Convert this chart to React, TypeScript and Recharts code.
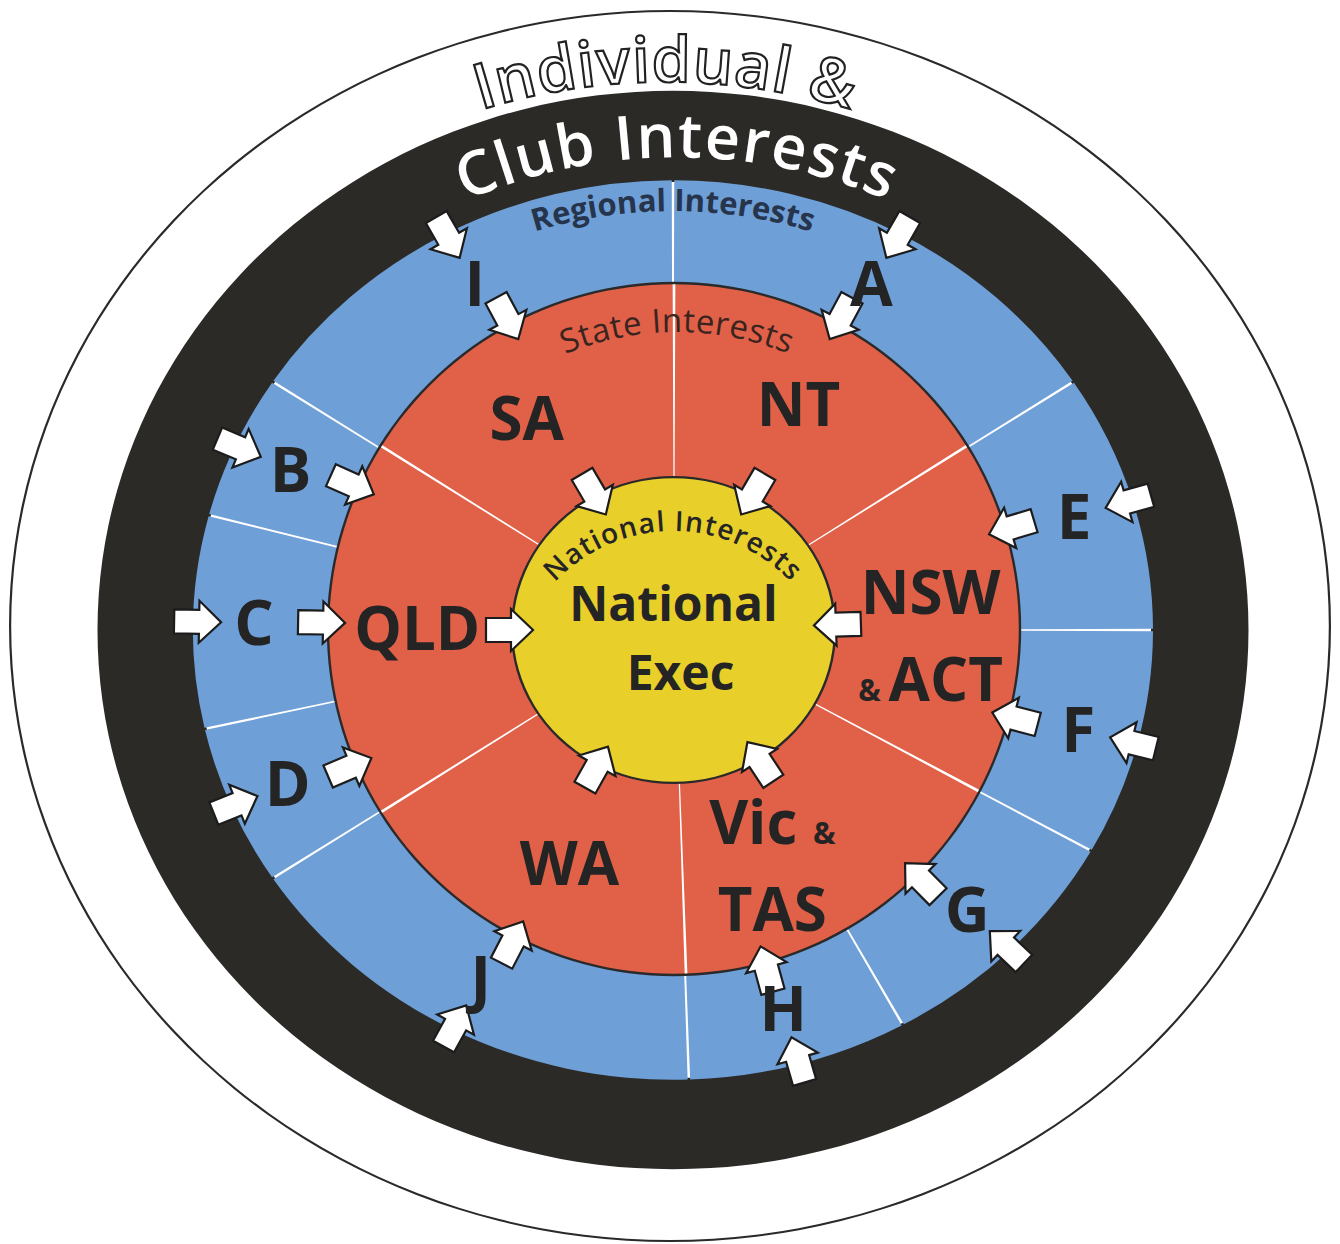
import React from "react";
import { PieChart, Pie } from "recharts";

const FONT = "'Open Sans', 'Noto Sans', 'DejaVu Sans', sans-serif";

// ---------------- data ----------------
const TITLE_LINES = ["Individual &", "Club Interests"];
const RING_TITLES = ["Regional Interests", "State Interests", "National Interests"];
// regions, counter-clockwise from 3 o'clock; spans in degrees
const REGIONS = ["E", "A", "I", "B", "C", "D", "J", "H", "G", "F"];
const REGION_SPANS = [33.5, 56.5, 56.5, 18.7, 27.5, 20.8, 58.4, 26.7, 32.0, 29.4];
// states, counter-clockwise from -28 degrees; spans in degrees
const STATES = ["NSW & ACT", "NT", "SA", "QLD", "WA", "Vic & TAS"];
const STATE_SPANS = [60, 58, 58, 64, 60, 60];
const STATE_LINES = [["NSW", "& ACT"], ["NT"], ["SA"], ["QLD"], ["WA"], ["Vic &", "TAS"]];
const CENTRE_LINES = ["National", "Exec"];

// ---------------- layout ----------------
const W = 1340;
const H = 1244;
const OUTER = { cx: 670, cy: 626, r: 661, k: 0.932 };
const RING = { cx: 673, cy: 630, k: 0.937, black: 575.5, blue: 480 };
const RED = { cx: 674, cy: 629, r: 346 };
const YEL = { cx: 673.5, cy: 630, r: 161.5, k: 0.947 };
const REGION_PAD = 0.3;
const STATE_PAD = 0.45;
const STATE_START = -28;
// small hand-placement turns (degrees) of the state captions inside their sectors
const STATE_LABEL_TURN = [-3.5, 0, 6, 0, 4, -9.5];

const COLORS = {
  black: "#2b2a27",
  blue: "#6e9fd7",
  red: "#e06048",
  yellow: "#e9cf2a",
  ink: "#242424",
  line: "#2a2a2a",
};

const regionData = REGIONS.map((name, i) => ({ name, value: REGION_SPANS[i] - REGION_PAD }));
const stateData = STATES.map((name, i) => ({ name, value: STATE_SPANS[i] - STATE_PAD }));
const one = (name: string) => [{ name, value: 1 }];

const squash = (k: number, cy: number) => `matrix(1,0,0,${k},0,${(cy * (1 - k)).toFixed(2)})`;
const CSS = `
body{margin:0;background:#fff;}
g.recharts-pie.sq-outer{transform:${squash(OUTER.k, OUTER.cy)};transform-origin:0 0;transform-box:view-box;}
g.recharts-pie.sq-ring{transform:${squash(RING.k, RING.cy)};transform-origin:0 0;transform-box:view-box;}
g.recharts-pie.sq-yel{transform:${squash(YEL.k, YEL.cy)};transform-origin:0 0;transform-box:view-box;}
`;

const toXY = (cx: number, cy: number, r: number, deg: number, k: number) => {
  const a = (deg * Math.PI) / 180;
  return { x: cx + r * Math.cos(a), y: cy - r * Math.sin(a) * k };
};

function Arrow({ x, y, tx, ty }: { x: number; y: number; tx: number; ty: number }) {
  const deg = (Math.atan2(ty - y, tx - x) * 180) / Math.PI;
  return (
    <path
      d="M -24,-12 L 1,-12 L 1,-21 L 23,0 L 1,21 L 1,12 L -24,12 Z"
      transform={`translate(${x.toFixed(1)},${y.toFixed(1)}) rotate(${deg.toFixed(1)})`}
      fill="#ffffff"
      stroke="#1c1c1c"
      strokeWidth={2.2}
      strokeLinejoin="miter"
    />
  );
}

const renderRegion = (p: any) => {
  const { cx, cy, midAngle, innerRadius, outerRadius, index } = p;
  const c = toXY(cx, cy, (innerRadius + outerRadius) / 2 + 6, midAngle, RING.k);
  const out = toXY(cx, cy, outerRadius - 5, midAngle, RING.k);
  const inn = toXY(RED.cx, RED.cy, RED.r + 6, midAngle, 1);
  const fs = 62;
  return (
    <g>
      <Arrow x={out.x} y={out.y} tx={cx} ty={cy} />
      <Arrow x={inn.x} y={inn.y} tx={RED.cx} ty={RED.cy} />
      <text
        x={c.x}
        y={c.y + fs * 0.357}
        textAnchor="middle"
        fontFamily={FONT}
        fontSize={fs}
        fontWeight={700}
        fill={COLORS.ink}
      >
        {REGIONS[index]}
      </text>
    </g>
  );
};

const tokens = (ln: string) =>
  ln.split(" ").map((t, i, arr) => (
    <tspan key={i} fontSize={t === "&" ? 30 : undefined}>
      {t}
      {i < arr.length - 1 ? " " : ""}
    </tspan>
  ));

const renderState = (p: any) => {
  const { cx, cy, midAngle, innerRadius, outerRadius, index } = p;
  const c = toXY(cx, cy, (innerRadius + outerRadius) / 2 + 3, midAngle + STATE_LABEL_TURN[index], 1);
  const a = toXY(YEL.cx, YEL.cy, YEL.r + 2, midAngle, YEL.k);
  const lines = STATE_LINES[index];
  const fs = 60;
  const gap = 87;
  return (
    <g>
      <Arrow x={a.x} y={a.y} tx={YEL.cx} ty={YEL.cy} />
      {lines.map((ln, j) => (
        <text
          key={j}
          x={c.x}
          y={c.y + (j - (lines.length - 1) / 2) * gap + fs * 0.357}
          textAnchor="middle"
          fontFamily={FONT}
          fontSize={fs}
          fontWeight={700}
          fill={COLORS.ink}
        >
          {tokens(ln)}
        </text>
      ))}
    </g>
  );
};

const renderCentre = (p: any) => {
  const { cx, cy } = p;
  return (
    <g>
      <text x={cx} y={cy - 9} textAnchor="middle" fontFamily={FONT} fontSize={48} fontWeight={700} fill={COLORS.ink}>
        {CENTRE_LINES[0]}
      </text>
      <text x={cx + 7} y={cy + 60} textAnchor="middle" fontFamily={FONT} fontSize={48} fontWeight={700} fill={COLORS.ink}>
        {CENTRE_LINES[1]}
      </text>
    </g>
  );
};

type ArcOpts = {
  id: string;
  k: number;
  fontSize: number;
  fontWeight: number;
  fill: string;
  stroke?: string;
  strokeWidth?: number;
  letterSpacing?: number;
};

const arcLabel = (o: ArcOpts) => (p: any) => {
  const { cx, cy, outerRadius } = p;
  const rx = outerRadius;
  const ry = outerRadius * o.k;
  const text = p.name ?? (p.payload && p.payload.name);
  const d = `M ${cx - rx},${cy} A ${rx},${ry} 0 0 1 ${cx + rx},${cy}`;
  return (
    <g>
      <defs>
        <path id={o.id} d={d} />
      </defs>
      <text
        fontFamily={FONT}
        fontSize={o.fontSize}
        fontWeight={o.fontWeight}
        fill={o.fill}
        stroke={o.stroke || "none"}
        strokeWidth={o.strokeWidth || 0}
        letterSpacing={o.letterSpacing || 0}
        textAnchor="middle"
      >
        <textPath href={`#${o.id}`} startOffset="50%" textAnchor="middle">
          {text}
        </textPath>
      </text>
    </g>
  );
};

const common = { dataKey: "value", isAnimationActive: false, stroke: "none" } as const;

export default function App() {
  return (
    <div style={{ width: W, height: H, background: "#fff" }}>
      <style>{CSS}</style>
      <PieChart width={W} height={H} margin={{ top: 0, right: 0, bottom: 0, left: 0 }}>
        {/* outer white target outline */}
        <Pie
          {...common}
          className="sq-outer"
          data={one(TITLE_LINES[0])}
          cx={OUTER.cx}
          cy={OUTER.cy}
          innerRadius={OUTER.r - 2.2}
          outerRadius={OUTER.r}
          fill={COLORS.line}
        />
        {/* black ring */}
        <Pie
          {...common}
          className="sq-ring"
          data={one(TITLE_LINES[1])}
          cx={RING.cx}
          cy={RING.cy}
          innerRadius={RING.blue - 2}
          outerRadius={RING.black}
          fill={COLORS.black}
        />
        {/* blue regional ring */}
        <Pie
          {...common}
          className="sq-ring"
          data={regionData}
          cx={RING.cx}
          cy={RING.cy}
          innerRadius={RED.r - 4}
          outerRadius={RING.blue}
          startAngle={REGION_PAD / 2}
          endAngle={360 + REGION_PAD / 2}
          paddingAngle={REGION_PAD}
          fill={COLORS.blue}
        />
        {/* white backing under state ring */}
        <Pie {...common} data={one(RING_TITLES[1])} cx={RED.cx} cy={RED.cy} innerRadius={0} outerRadius={RED.r} fill="#ffffff" />
        {/* red state ring */}
        <Pie
          {...common}
          data={stateData}
          cx={RED.cx}
          cy={RED.cy}
          innerRadius={YEL.r - 30}
          outerRadius={RED.r}
          startAngle={STATE_START + STATE_PAD / 2}
          endAngle={STATE_START + 360 + STATE_PAD / 2}
          paddingAngle={STATE_PAD}
          fill={COLORS.red}
        />
        <Pie {...common} data={one(RING_TITLES[1])} cx={RED.cx} cy={RED.cy} innerRadius={RED.r - 1.2} outerRadius={RED.r + 1.2} fill={COLORS.line} />
        {/* yellow national centre */}
        <Pie {...common} className="sq-yel" data={one(RING_TITLES[2])} cx={YEL.cx} cy={YEL.cy} innerRadius={0} outerRadius={YEL.r} fill={COLORS.yellow} />
        <Pie {...common} className="sq-yel" data={one(RING_TITLES[2])} cx={YEL.cx} cy={YEL.cy} innerRadius={YEL.r - 1.2} outerRadius={YEL.r + 1.2} fill={COLORS.line} />

        {/* overlays: labels and arrows */}
        <Pie
          {...common}
          data={regionData}
          cx={RING.cx}
          cy={RING.cy}
          innerRadius={RED.r}
          outerRadius={RING.blue}
          startAngle={REGION_PAD / 2}
          endAngle={360 + REGION_PAD / 2}
          paddingAngle={REGION_PAD}
          fill="none"
          label={renderRegion}
          labelLine={false}
        />
        <Pie
          {...common}
          data={stateData}
          cx={RED.cx}
          cy={RED.cy}
          innerRadius={YEL.r}
          outerRadius={RED.r}
          startAngle={STATE_START + STATE_PAD / 2}
          endAngle={STATE_START + 360 + STATE_PAD / 2}
          paddingAngle={STATE_PAD}
          fill="none"
          label={renderState}
          labelLine={false}
        />
        <Pie {...common} data={one("National Exec")} cx={YEL.cx} cy={YEL.cy} innerRadius={0} outerRadius={YEL.r} fill="none" label={renderCentre} labelLine={false} />

        {/* curved titles */}
        <Pie
          {...common}
          data={one(TITLE_LINES[0])}
          cx={666}
          cy={626}
          innerRadius={0}
          outerRadius={585}
          fill="none"
          labelLine={false}
          label={arcLabel({ id: "arc-individual", k: 0.93, fontSize: 63, fontWeight: 600, fill: "#ffffff", stroke: "#222", strokeWidth: 2.2, letterSpacing: 1 })}
        />
        <Pie
          {...common}
          data={one(TITLE_LINES[1])}
          cx={677}
          cy={630.5}
          innerRadius={0}
          outerRadius={505}
          fill="none"
          labelLine={false}
          label={arcLabel({ id: "arc-club", k: 0.937, fontSize: 61, fontWeight: 600, fill: "#ffffff", letterSpacing: 1.8 })}
        />
        <Pie
          {...common}
          data={one(RING_TITLES[0])}
          cx={673}
          cy={630}
          innerRadius={0}
          outerRadius={447}
          fill="none"
          labelLine={false}
          label={arcLabel({ id: "arc-regional", k: 0.937, fontSize: 31, fontWeight: 700, fill: "#26344c" })}
        />
        <Pie
          {...common}
          data={one(RING_TITLES[1])}
          cx={677}
          cy={629}
          innerRadius={0}
          outerRadius={297}
          fill="none"
          labelLine={false}
          label={arcLabel({ id: "arc-state", k: 1, fontSize: 33, fontWeight: 500, fill: "#3a2420", letterSpacing: 0.5 })}
        />
        <Pie
          {...common}
          data={one(RING_TITLES[2])}
          cx={673}
          cy={692}
          innerRadius={0}
          outerRadius={161}
          fill="none"
          labelLine={false}
          label={arcLabel({ id: "arc-national", k: 1, fontSize: 28, fontWeight: 600, fill: "#252525", letterSpacing: 1.2 })}
        />
      </PieChart>
    </div>
  );
}
